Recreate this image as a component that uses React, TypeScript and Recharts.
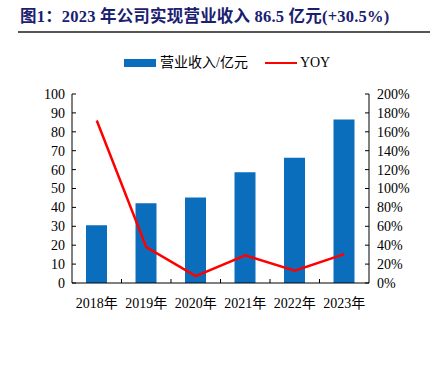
import React from "react";
import { ComposedChart, Bar, Line, XAxis, YAxis } from "recharts";

const years = ["2018年", "2019年", "2020年", "2021年", "2022年", "2023年"];
const revenue = [30.5, 42.2, 45.3, 58.6, 66.3, 86.5];
const yoy = [172, 38, 7.3, 29.3, 13.1, 30.5];
const leftTicks = [0, 10, 20, 30, 40, 50, 60, 70, 80, 90, 100];
const rightTicks = [0, 20, 40, 60, 80, 100, 120, 140, 160, 180, 200];

const data = years.map((y, i) => ({ year: y, revenue: revenue[i], yoy: yoy[i] }));

const FONT = '"Times New Roman", "Liberation Serif", "Noto Sans CJK SC", serif';
const BLUE = "#0A6EBD";
const RED = "#FF0000";
const FS = 14;

const XTick = (props: any) => {
  const { x, y, payload, index, visibleTicksCount } = props;
  const half = 297 / years.length / 2;
  const axisY = y - 14;
  return (
    <g>
      <text x={x} y={y} dy={FS * 0.75} textAnchor="middle" fill="#000" fontSize={FS} fontFamily={FONT}>
        {payload.value}
      </text>
      {index < (visibleTicksCount ?? years.length) - 1 ? (
        <line x1={x + half} x2={x + half} y1={axisY} y2={axisY - 4} stroke="#000" />
      ) : null}
    </g>
  );
};

export default function App() {
  return (
    <div style={{ position: "absolute", left: 0, top: 0, width: 434, height: 381, background: "#fff" }}>
      <div
        style={{
          position: "absolute",
          left: 20,
          top: 7,
          fontFamily: FONT,
          fontWeight: "bold",
          fontSize: 16.5,
          letterSpacing: 0.2,
          color: "#1A2070",
          whiteSpace: "nowrap",
          lineHeight: "20px",
        }}
      >
        图1：2023 年公司实现营业收入 86.5 亿元(+30.5%)
      </div>
      <div style={{ position: "absolute", left: 18, top: 31, width: 412, height: 1.5, background: "#555" }} />
      <div
        style={{
          position: "absolute",
          left: 124,
          top: 54,
          display: "flex",
          alignItems: "center",
          fontFamily: FONT,
          fontSize: FS,
          color: "#000",
          whiteSpace: "nowrap",
          lineHeight: "18px",
        }}
      >
        <span style={{ display: "inline-block", width: 32, height: 8, background: BLUE, marginRight: 4 }} />
        <span style={{ marginRight: 17 }}>营业收入/亿元</span>
        <span style={{ display: "inline-block", width: 32, height: 2.5, background: RED, marginRight: 3 }} />
        <span>YOY</span>
      </div>
      <div style={{ position: "absolute", left: 0, top: 0 }}>
        <ComposedChart
          width={434}
          height={381}
          data={data}
          margin={{ top: 94, right: 0, bottom: 68, left: 0 }}
        >
          <XAxis
            dataKey="year"
            height={30}
            tick={<XTick />}
            axisLine={{ stroke: "#000" }}
            tickLine={false}
            interval={0}
            tickMargin={8}
          />
          <YAxis
            yAxisId="left"
            orientation="left"
            width={72}
            domain={[0, 100]}
            ticks={leftTicks}
            interval={0}
            tick={{ fill: "#000", fontSize: FS, fontFamily: FONT }}
            axisLine={{ stroke: "#000" }}
            tickLine={{ stroke: "#000" }}
            tickSize={-4}
            tickMargin={11}
          />
          <YAxis
            yAxisId="right"
            orientation="right"
            width={65}
            domain={[0, 200]}
            ticks={rightTicks}
            interval={0}
            tickFormatter={(v: number) => `${v}%`}
            tick={{ fill: "#000", fontSize: FS, fontFamily: FONT }}
            axisLine={{ stroke: "#000" }}
            tickLine={{ stroke: "#000" }}
            tickSize={-4}
            tickMargin={12}
          />
          <Bar yAxisId="left" dataKey="revenue" name="营业收入/亿元" fill={BLUE} barSize={21} isAnimationActive={false} />
          <Line
            yAxisId="right"
            dataKey="yoy"
            name="YOY"
            stroke={RED}
            strokeWidth={2.5}
            dot={false}
            activeDot={false}
            type="linear"
            isAnimationActive={false}
          />
        </ComposedChart>
      </div>
    </div>
  );
}
